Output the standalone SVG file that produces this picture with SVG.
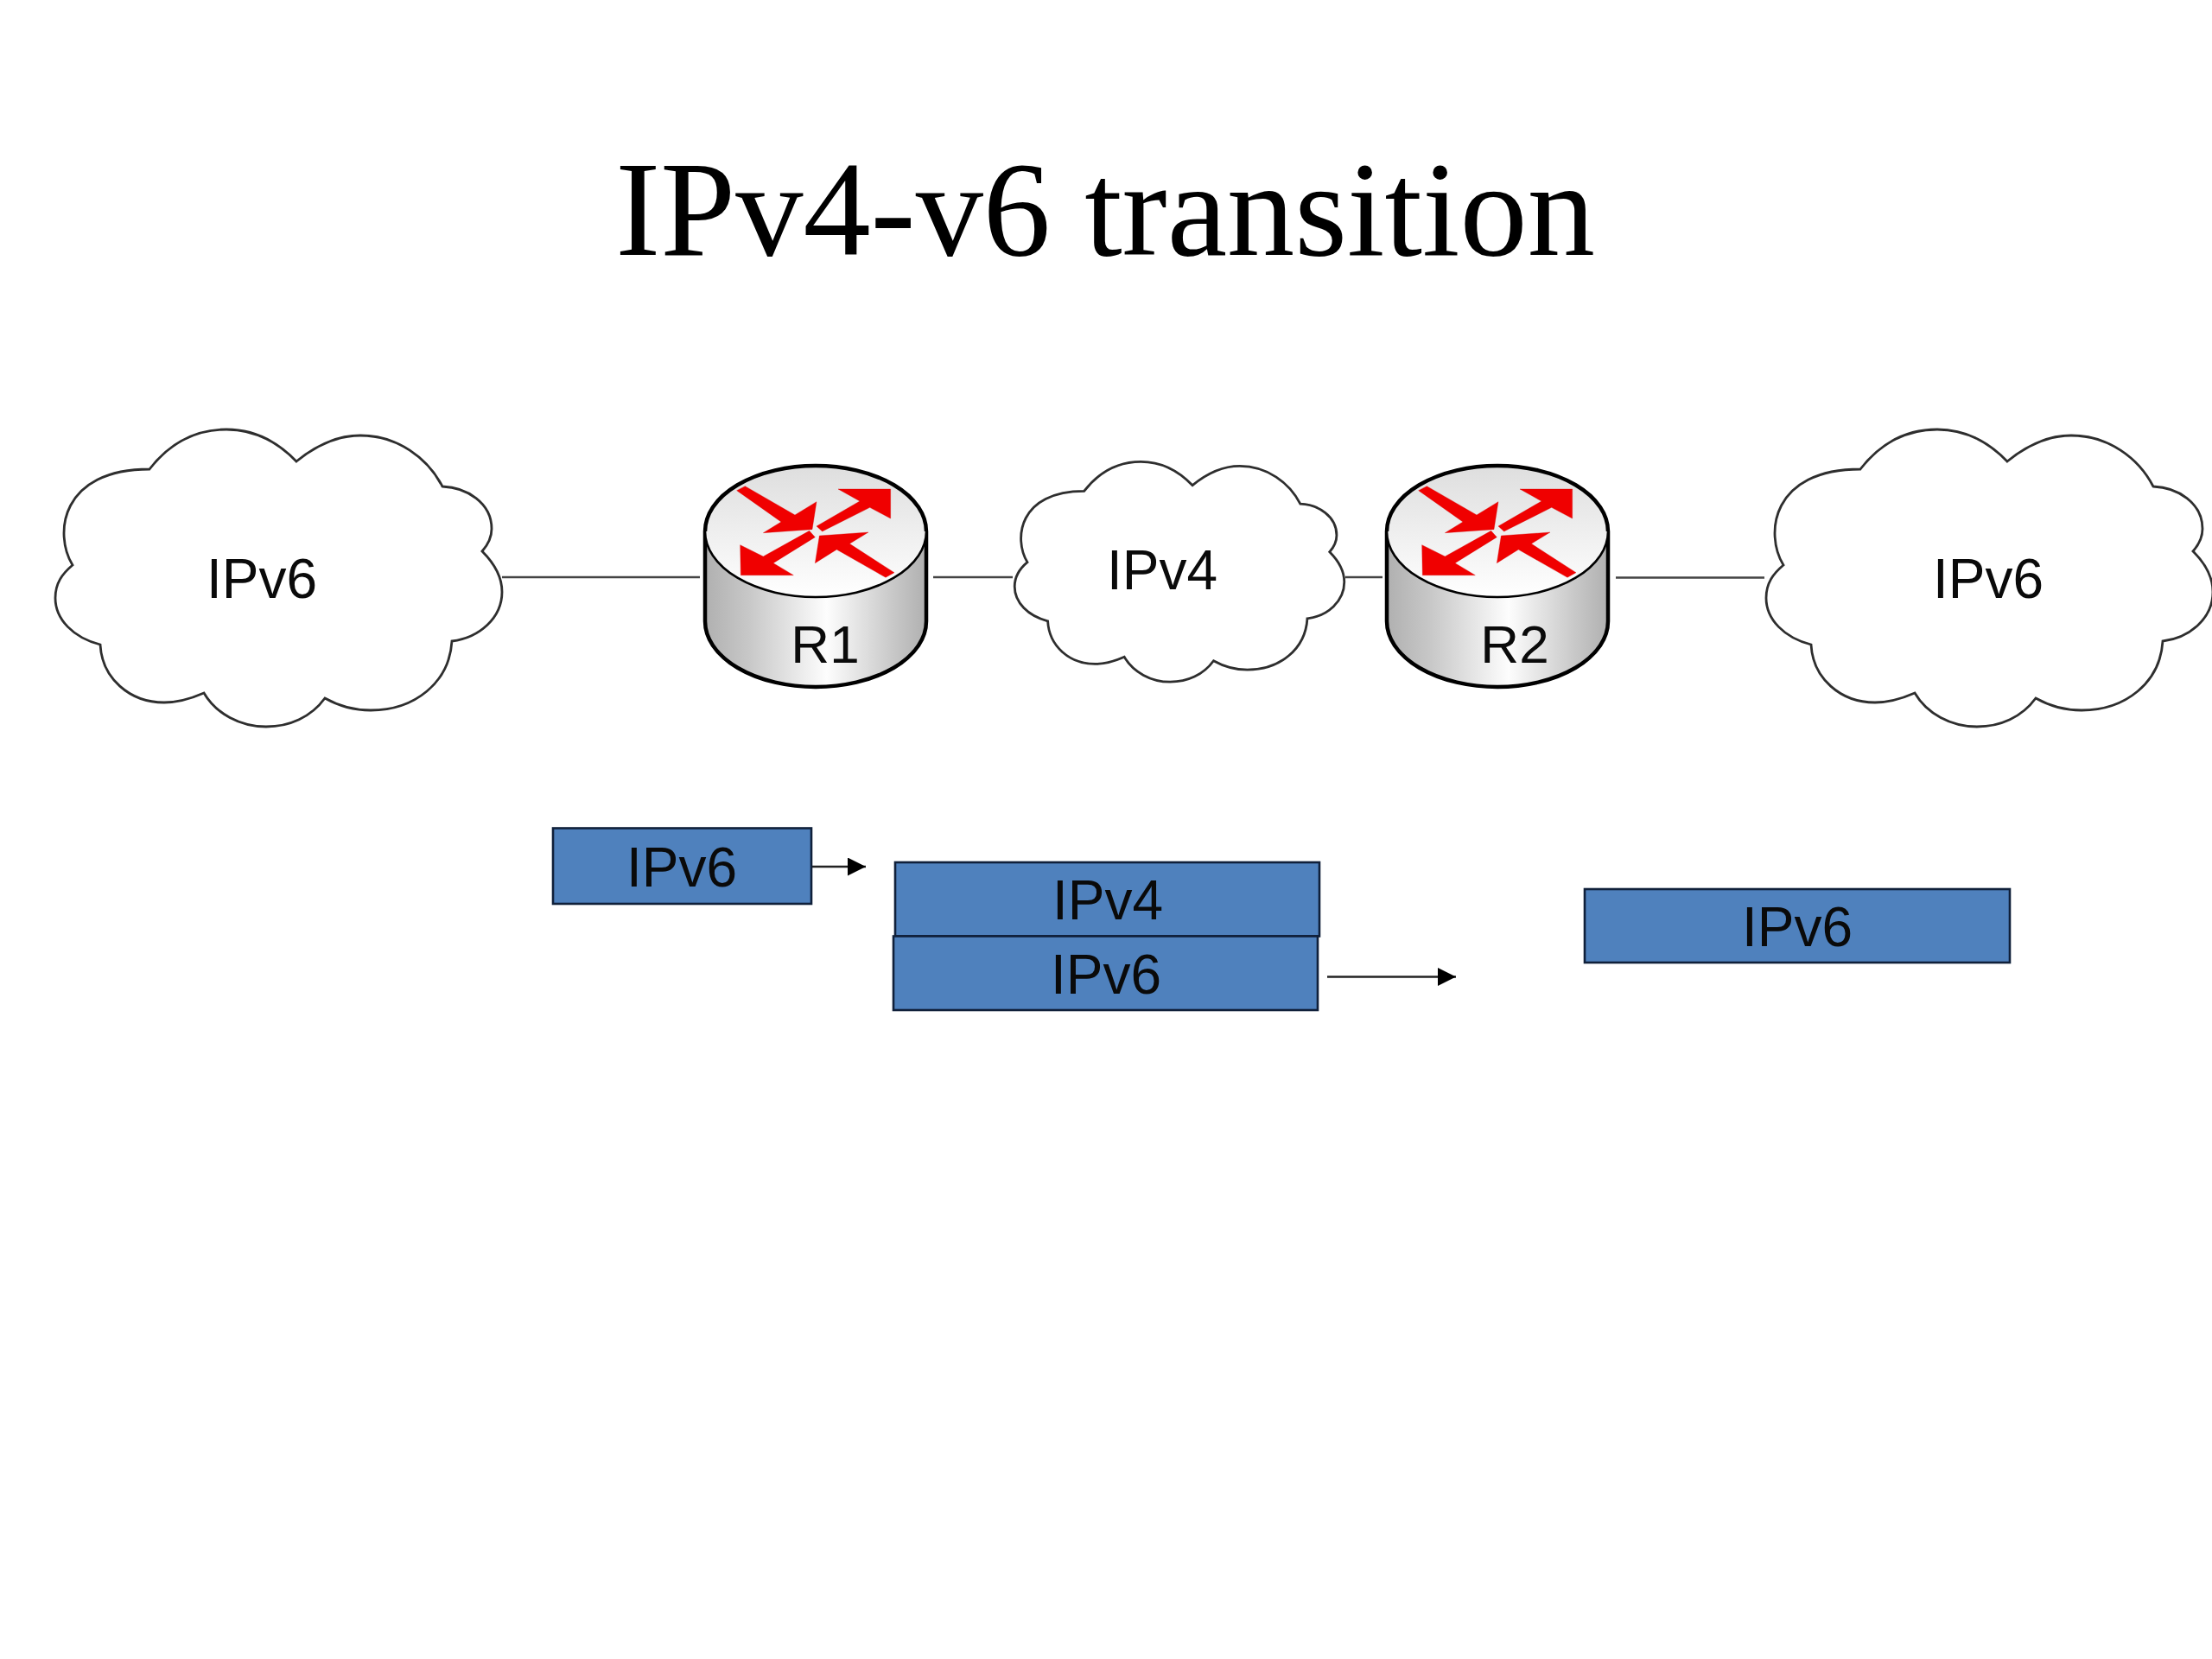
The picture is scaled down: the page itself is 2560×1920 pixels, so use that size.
<svg xmlns="http://www.w3.org/2000/svg" xmlns:xlink="http://www.w3.org/1999/xlink" width="2560" height="1920" viewBox="0 0 2560 1920">
<style>
.label{font-family:"Liberation Sans",Arial,sans-serif;font-size:64px;fill:#0a0a0a;text-anchor:middle}
.rlabel{font-size:62px}
.title{font-family:"Liberation Serif","Times New Roman",serif;font-size:156.4px;fill:#000;text-anchor:middle}
.cloud{fill:#fff;stroke:#2e2e2e;stroke-width:2.8;vector-effect:non-scaling-stroke;stroke-linejoin:miter}
.link{stroke:#444;stroke-width:2.6;fill:none}
.flow{stroke:#222;stroke-width:2.6;fill:none;marker-end:url(#head)}
.box{fill:#4f81bd;stroke:#10203a;stroke-width:2.6}
.out{fill:none;stroke:#000;stroke-width:4.5}
.rim{fill:url(#topGrad);stroke:#000;stroke-width:2.6}
</style>
<defs>
<linearGradient id="sideGrad" x1="0" y1="0" x2="1" y2="0">
<stop offset="0" stop-color="#b0b0b0"/><stop offset=".2" stop-color="#c8c8c8"/><stop offset=".55" stop-color="#fdfdfd"/><stop offset=".85" stop-color="#c8c8c8"/><stop offset="1" stop-color="#b0b0b0"/>
</linearGradient>
<linearGradient id="topGrad" x1="0" y1="0" x2="0" y2="1">
<stop offset="0" stop-color="#dedede"/><stop offset="1" stop-color="#ffffff"/>
</linearGradient>
<marker id="head" markerUnits="userSpaceOnUse" markerWidth="22" markerHeight="22" refX="21" refY="10.5" orient="auto">
<path d="M0 0L21 10.5L0 21Z" fill="#000"/>
</marker>
<path id="cloudShape" class="cloud" d="M173 543C197 512 228 497 262 497C292 497 320 510 343 534C365 516 390 504 417 504C460 504 495 530 512 563C540 564 569 582 569 612C569 622 565 630 558 638C572 652 581 668 581 685C581 715 555 738 523 742C520 790 480 822 429 822C410 822 392 817 376 808C360 830 335 841 308 841C278 841 250 826 236 802C220 809 205 813 190 813C150 813 118 785 116 746C85 738 64 717 64 692C64 675 72 664 84 654C62 618 70 543 173 543Z"/>
<g id="routerShape">
<path d="M816 615V719A128 76 0 0 0 1072 719V615Z" fill="url(#sideGrad)"/>
<path class="out" d="M816 615V719A128 76 0 0 0 1072 719V615"/>
<ellipse class="rim" cx="944" cy="615" rx="128" ry="76"/>
<path class="out" d="M816 615A128 76 0 0 1 1072 615"/>
<g transform="translate(780 500) scale(.33333)" fill="#f00000" stroke="#d00000" stroke-width="1">
<polygon points="218,203 247,188 420,288 495,242 480,338 310,350 372,312"/>
<polygon points="495,327 645,240 570,198 752,198 752,300 680,262 515,345"/>
<polygon points="470,343 310,432 230,392 232,497 415,497 345,455 490,365"/>
<polygon points="765,488 735,505 565,408 490,455 505,360 675,348 610,388"/>
</g>
</g>
</defs>
<rect width="2560" height="1920" fill="#fff"/>
<text class="title" x="1279" y="295">IPv4-v6 transition</text>
<g id="connectors">
<line class="link" x1="581" y1="668" x2="810" y2="668"/>
<line class="link" x1="1080" y1="668" x2="1172" y2="668"/>
<line class="link" x1="1557" y1="668" x2="1600" y2="668"/>
<line class="link" x1="1870" y1="668.5" x2="2042" y2="668.5"/>
<line class="flow" x1="939" y1="1003" x2="1002" y2="1003"/>
<line class="flow" x1="1536" y1="1130.5" x2="1685" y2="1130.5"/>
</g>
<g id="cloud-left"><use xlink:href="#cloudShape" href="#cloudShape"/><text class="label" x="303" y="692">IPv6</text></g>
<g id="router-r1"><use xlink:href="#routerShape" href="#routerShape"/><text class="label rlabel" x="955" y="767">R1</text></g>
<g id="cloud-middle"><use xlink:href="#cloudShape" href="#cloudShape" transform="translate(1127 166) scale(.738 .741)"/><text class="label" x="1345" y="682">IPv4</text></g>
<g id="router-r2"><use xlink:href="#routerShape" href="#routerShape" transform="translate(789 0)"/><text class="label rlabel" x="1753" y="767">R2</text></g>
<g id="cloud-right"><use xlink:href="#cloudShape" href="#cloudShape" transform="translate(1980 0)"/><text class="label" x="2301" y="692">IPv6</text></g>
<g id="packet-ipv6"><rect class="box" x="640" y="958.5" width="299" height="87.5"/><text class="label" x="789" y="1026">IPv6</text></g>
<g id="packet-outer-ipv4"><rect class="box" x="1036" y="998" width="491" height="85.5"/><text class="label" x="1282" y="1064">IPv4</text></g>
<g id="packet-inner-ipv6"><rect class="box" x="1034" y="1083.5" width="491" height="85.5"/><text class="label" x="1280" y="1150">IPv6</text></g>
<g id="packet-result"><rect class="box" x="1834" y="1029" width="492" height="85"/><text class="label" x="2080" y="1095">IPv6</text></g>
</svg>
